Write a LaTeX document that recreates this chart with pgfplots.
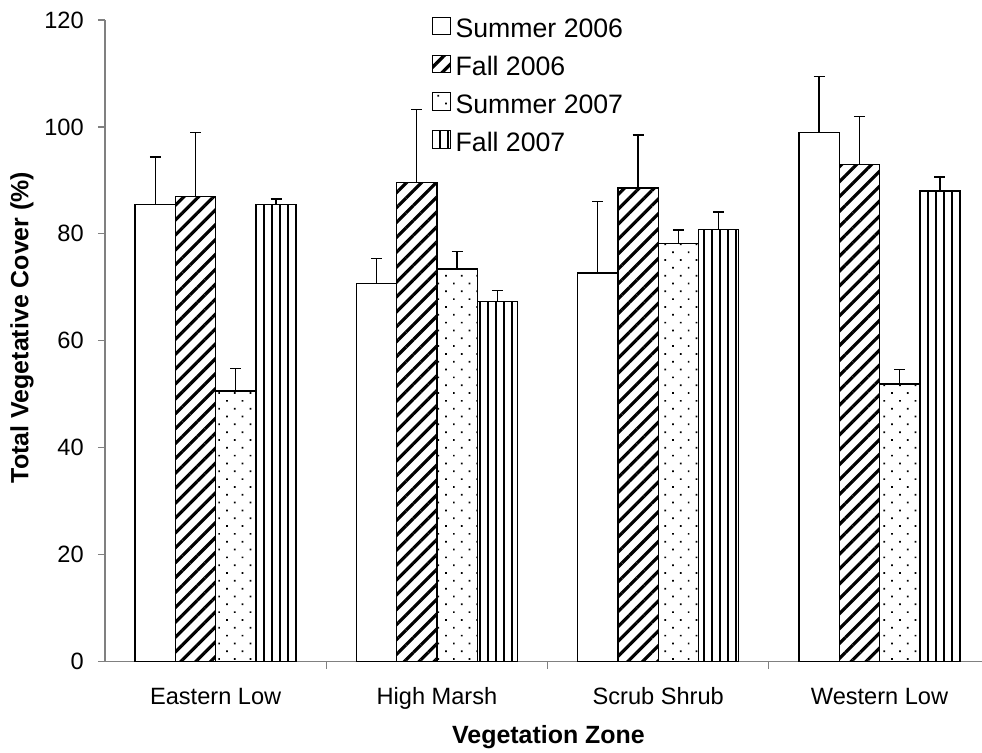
\documentclass[border=0pt]{standalone}
\usepackage{fontspec}
\setmainfont{Liberation Sans}
\usepackage{pgfplots}
\pgfplotsset{compat=1.18}
\usetikzlibrary{patterns.meta}
\begin{document}
\begin{tikzpicture}
\begin{axis}[
  scale only axis,
  width=657.75pt, height=481.125pt,
  ybar=0pt, bar width=0.182,
  xmin=-0.5, xmax=3.463, ymin=0, ymax=120,
  axis x line*=bottom, axis y line*=left,
  axis line style={draw=gray, line width=0.9pt, -},
  tick align=outside,
  major tick length=5.25pt, minor tick length=5.25pt,
  every tick/.style={draw=gray, line width=0.9pt},
  xtick={0,1,2,3},
  xticklabels={Eastern Low, High Marsh, Scrub Shrub, Western Low},
  minor x tick num=1,
  major x tick style={draw=none},
  ytick={0,20,40,60,80,100,120},
  /pgf/number format/assume math mode=true,
  tick label style={font=\fontsize{17.7}{20}\selectfont, text=black},
  yticklabel style={inner sep=0pt, xshift=-10.5pt},
  xticklabel style={inner sep=0pt, text height=12.7pt, yshift=-14pt},
  xlabel={Vegetation Zone},
  ylabel={Total Vegetative Cover (\%)},
  label style={font=\bfseries\fontsize{18.7}{22}\selectfont},
  xlabel style={at={(axis description cs:0.5057,-0.1185)}, anchor=center},
  ylabel style={at={(axis description cs:-0.0946,0.5207)}, anchor=center},
  legend style={at={(0.3729,1.0058)}, anchor=north west, draw=none, fill=none,
    font=\fontsize{20}{24}\selectfont, inner sep=0pt, row sep=7.5pt, column sep=3.75pt,
    nodes={inner sep=0pt, text height=15pt, text depth=5pt}},
  legend cell align=left,
  legend image code/.code={\draw[#1, line width=0.75pt] (0pt,-2.2pt) rectangle (13pt,10.6pt);},
  error bars/y dir=plus,
  error bars/y explicit,
  error bars/error mark=-,
  error bars/error bar style={black, line width=1pt},
  error bars/error mark options={black, line width=1pt, mark size=4.1pt, rotate=90},
]
\addplot[draw=black, line width=1pt, fill=white]
  table[x=x, y=y, y error=e] {
x y e
0 85.5 8.9
1 70.75 4.65
2 72.7 13.4
3 99.0 10.4
};
\addlegendentry{Summer 2006}
\addplot[draw=black, line width=1pt, fill=white, pattern={Lines[angle=45, distance=7.9pt, line width=2.4pt]}]
  table[x=x, y=y, y error=e] {
x y e
0 86.95 12.05
1 89.6 13.7
2 88.6 9.9
3 93.0 9.0
};
\addlegendentry{Fall 2006}
\addplot[draw=black, line width=1pt, pattern={Dots[angle=45, distance=8.3pt, radius=0.9pt]}]
  table[x=x, y=y, y error=e] {
x y e
0 50.6 4.2
1 73.4 3.3
2 78.2 2.5
3 51.9 2.7
};
\addlegendentry{Summer 2007}
\addplot[draw=black, line width=1pt, pattern={Lines[angle=90, distance=6pt, line width=1.3pt]}]
  table[x=x, y=y, y error=e] {
x y e
0 85.5 1.0
1 67.3 2.1
2 80.8 3.3
3 88.0 2.6
};
\addlegendentry{Fall 2007}
\end{axis}
\pgfresetboundingbox
\path[use as bounding box] (-78.75pt,-68.625pt) rectangle (657.75pt,496.125pt);
\end{tikzpicture}
\end{document}
